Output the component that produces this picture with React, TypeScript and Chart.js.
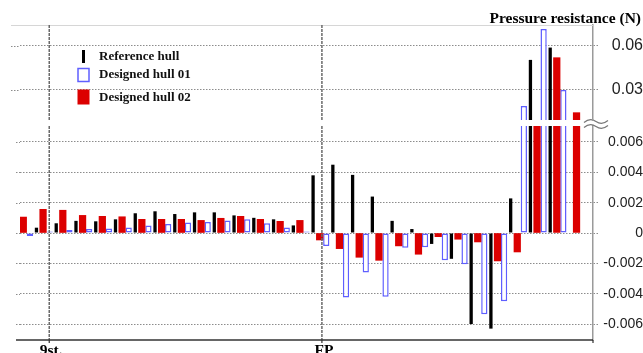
import React, { useEffect, useRef } from 'react';
import { Chart, registerables } from 'chart.js';

Chart.register(...registerables);

// Stations along the hull, aft to fore
const stations = [
  '1', '2', '3', '4', '5', '6', '7', '8', '9', '10',
  '11', '12', '13', '14', '15', '16', '17', '18', '19', '20',
  '21', '22', '23', '24', '25', '26', '27', '28', '29',
];

// Pressure resistance (N) per station
const referenceHull = [
  0.00035, 0.00064, 0.0008, 0.00077, 0.0009, 0.0013, 0.00143, 0.00125, 0.00136, 0.00136,
  0.00116, 0.001, 0.0009, 0.0005, 0.0038, 0.0045, 0.00383, 0.0024, 0.0008, 0.00026,
  -0.00072, -0.0017, -0.006, -0.0063, 0.00228, 0.0505, 0.0589, null, null,
];
const designedHull01 = [
  -0.0002, 0.0001, 0.0002, 0.00027, 0.0003, 0.00037, 0.0005, 0.0006, 0.0007, 0.00072,
  0.00083, 0.0009, 0.00064, 0.00037, 0.0001, -0.00086, -0.00425, -0.0026, -0.0042, -0.00097,
  -0.00094, -0.0018, -0.00206, -0.00535, -0.0045, 0.0191, 0.0716, 0.03, null,
];
const designedHull02 = [
  0.00105, 0.00156, 0.0015, 0.00116, 0.0011, 0.00107, 0.0009, 0.0009, 0.0009, 0.00083,
  0.00097, 0.0011, 0.0009, 0.00077, 0.00083, -0.00046, -0.00103, -0.0016, -0.0018, -0.00085,
  -0.0014, -0.00024, -0.00041, -0.00059, -0.00184, -0.00125, 0.008, 0.052, 0.0145,
];

// Broken value axis: large values above, small values below
const upperRange = [0.0095, 0.0743];
const lowerRange = [-0.00705, 0.00705];
const upperTicks = [0.03, 0.06];
const lowerTicks = [-0.006, -0.004, -0.002, 0, 0.002, 0.004, 0.006];

// Reference stations marked on the x axis (fractional station index)
const stationMarks = [
  { label: '9st.', at: 0.98 },
  { label: 'FP', at: 14.78 },
];

const seriesNames = ['Reference hull', 'Designed hull 01', 'Designed hull 02'];

const RED = '#dc0000';
const BLUE = '#5f5fff';
const GRID = '#8c8c8c';
const SERIF = '"Liberation Serif", "Times New Roman", serif';
const SANS = '"Liberation Sans", Arial, sans-serif';

function buildDatasets() {
  return [
    {
      label: seriesNames[2],
      data: designedHull02,
      backgroundColor: RED,
      borderWidth: 0,
      barPercentage: 1,
      categoryPercentage: 1,
      clip: 0,
    },
    {
      label: seriesNames[1],
      data: designedHull01,
      backgroundColor: '#ffffff',
      borderColor: BLUE,
      borderWidth: 1.5,
      borderSkipped: false,
      barPercentage: 0.95,
      categoryPercentage: 1,
      clip: 0,
    },
    {
      label: seriesNames[0],
      data: referenceHull,
      backgroundColor: '#000000',
      borderWidth: 0,
      barPercentage: 0.5,
      categoryPercentage: 1,
      clip: 0,
    },
  ];
}

function valueAxis(range: number[], ticks: number[], fontSize: number, padding: number) {
  return {
    position: 'right',
    min: range[0],
    max: range[1],
    afterFit: (s: any) => {
      s.width = 50;
      // labels never sit at the ends of the range, so no extra room is needed
      s.paddingTop = 0;
      s.paddingBottom = 0;
    },
    afterBuildTicks: (s: any) => {
      s.ticks = ticks.map((value) => ({ value }));
    },
    ticks: {
      callback: (v: any) => (v === 0 ? '0' : String(v)),
      font: { family: SANS, size: fontSize },
      color: '#222',
      crossAlign: 'far',
      padding,
    },
    grid: {
      color: GRID,
      lineWidth: 1,
      drawTicks: true,
      tickLength: 5,
      tickBorderDash: [1.5, 1.5],
    },
    border: { display: true, color: '#9a9a9a', width: 1.5, dash: [1.5, 1.5] },
  };
}

// grid lines run a little past the left edge of the plot
function extendGrid(chart: any, fromX: number) {
  const { ctx, chartArea } = chart;
  const ys = chart.scales.y;
  ctx.save();
  ctx.strokeStyle = GRID;
  ctx.lineWidth = 1;
  ctx.setLineDash([1.5, 1.5]);
  for (const t of ys.ticks) {
    const y = Math.round(ys.getPixelForValue(t.value)) + 0.5;
    ctx.beginPath();
    ctx.moveTo(fromX, y);
    ctx.lineTo(chartArea.left, y);
    ctx.stroke();
  }
  ctx.restore();
}

function drawMarks(chart: any) {
  const { ctx, chartArea } = chart;
  const xs = chart.scales.x;
  ctx.save();
  ctx.strokeStyle = '#6a6a6a';
  ctx.lineWidth = 1.5;
  ctx.setLineDash([3, 1]);
  for (const m of stationMarks) {
    const x = xs.getPixelForValue(m.at);
    ctx.beginPath();
    ctx.moveTo(x, chartArea.top);
    ctx.lineTo(x, chartArea.bottom);
    ctx.stroke();
  }
  ctx.restore();
}

const upperDecor = {
  id: 'upperDecor',
  beforeDatasetsDraw(chart: any) {
    extendGrid(chart, 11);
  },
  afterDatasetsDraw(chart: any) {
    const { ctx, chartArea } = chart;
    ctx.save();
    ctx.strokeStyle = '#d6d6d6';
    ctx.lineWidth = 1;
    ctx.beginPath();
    ctx.moveTo(11, chartArea.top + 0.5);
    ctx.lineTo(chartArea.right, chartArea.top + 0.5);
    ctx.stroke();
    ctx.restore();

    drawMarks(chart);

    ctx.save();
    // axis title
    ctx.fillStyle = '#000';
    ctx.font = `bold 15.5px ${SERIF}`;
    ctx.textAlign = 'right';
    ctx.textBaseline = 'alphabetic';
    ctx.fillText('Pressure resistance (N)', 641, 23);

    // legend
    ctx.fillStyle = '#000';
    ctx.fillRect(82, 50, 3, 13);
    ctx.fillStyle = '#fff';
    ctx.fillRect(78, 68.5, 11, 13);
    ctx.strokeStyle = BLUE;
    ctx.lineWidth = 1.5;
    ctx.strokeRect(78, 68.5, 11, 13);
    ctx.fillStyle = RED;
    ctx.fillRect(77.5, 89.5, 12, 15);

    ctx.fillStyle = '#111';
    ctx.font = `bold 13px ${SERIF}`;
    ctx.textAlign = 'left';
    ctx.textBaseline = 'middle';
    ctx.fillText(seriesNames[0], 99, 57);
    ctx.fillText(seriesNames[1], 99, 75);
    ctx.fillText(seriesNames[2], 99, 98);
    ctx.restore();
  },
};

const lowerDecor = {
  id: 'lowerDecor',
  beforeDatasetsDraw(chart: any) {
    extendGrid(chart, 16);
  },
  afterDatasetsDraw(chart: any) {
    const { ctx, chartArea } = chart;
    drawMarks(chart);

    const xs = chart.scales.x;
    ctx.save();
    // bottom axis
    ctx.strokeStyle = '#333';
    ctx.lineWidth = 1.5;
    ctx.beginPath();
    ctx.moveTo(16, chartArea.bottom);
    ctx.lineTo(chartArea.right, chartArea.bottom);
    ctx.stroke();
    ctx.lineWidth = 1.2;
    for (const m of stationMarks) {
      const x = xs.getPixelForValue(m.at);
      ctx.beginPath();
      ctx.moveTo(x, chartArea.bottom);
      ctx.lineTo(x, chartArea.bottom + 3);
      ctx.stroke();
    }
    ctx.beginPath();
    ctx.moveTo(chartArea.right, chartArea.bottom);
    ctx.lineTo(chartArea.right, chartArea.bottom + 3);
    ctx.stroke();

    // station labels
    ctx.fillStyle = '#000';
    ctx.font = `bold 15.5px ${SERIF}`;
    ctx.textAlign = 'center';
    ctx.textBaseline = 'top';
    for (const m of stationMarks) {
      ctx.fillText(m.label, xs.getPixelForValue(m.at) + 2, chartArea.bottom + 3);
    }

    // axis break symbol
    const cx = chartArea.right + 3;
    const cy = chartArea.top - 2;
    ctx.strokeStyle = '#777';
    ctx.lineWidth = 1.2;
    for (const dy of [-2.5, 2.5]) {
      const y = cy + dy;
      ctx.beginPath();
      ctx.moveTo(cx - 12, y + 1);
      ctx.quadraticCurveTo(cx - 6, y - 4, cx, y);
      ctx.quadraticCurveTo(cx + 6, y + 4, cx + 12, y - 1);
      ctx.stroke();
    }
    ctx.restore();
  },
};

function makeConfig(part: 'upper' | 'lower'): any {
  const isUpper = part === 'upper';
  return {
    type: 'bar',
    data: { labels: stations, datasets: buildDatasets() },
    options: {
      responsive: false,
      animation: false,
      devicePixelRatio: 1,
      layout: {
        padding: isUpper
          ? { top: 25, bottom: 4, left: 20, right: 0 }
          : { top: 16, bottom: 13, left: 20, right: 0 },
      },
      plugins: {
        legend: { display: false },
        title: { display: false },
        tooltip: { enabled: false },
      },
      scales: {
        x: { type: 'category', display: false, offset: true },
        y: isUpper
          ? valueAxis(upperRange, upperTicks, 16, 13)
          : valueAxis(lowerRange, lowerTicks, 14, 5),
      },
    },
    plugins: [isUpper ? upperDecor : lowerDecor],
  };
}

export default function App() {
  const upperRef = useRef<HTMLCanvasElement>(null);
  const lowerRef = useRef<HTMLCanvasElement>(null);

  useEffect(() => {
    document.body.style.margin = '0';
    const upper = new Chart(upperRef.current as HTMLCanvasElement, makeConfig('upper'));
    const lower = new Chart(lowerRef.current as HTMLCanvasElement, makeConfig('lower'));
    return () => {
      upper.destroy();
      lower.destroy();
    };
  }, []);

  return (
    <div style={{ position: 'relative', width: 643, height: 353, overflow: 'hidden', background: '#fff' }}>
      <canvas
        ref={lowerRef}
        width={643}
        height={243}
        style={{ position: 'absolute', left: 0, top: 110 }}
      />
      <canvas
        ref={upperRef}
        width={643}
        height={124}
        style={{ position: 'absolute', left: 0, top: 0 }}
      />
    </div>
  );
}
